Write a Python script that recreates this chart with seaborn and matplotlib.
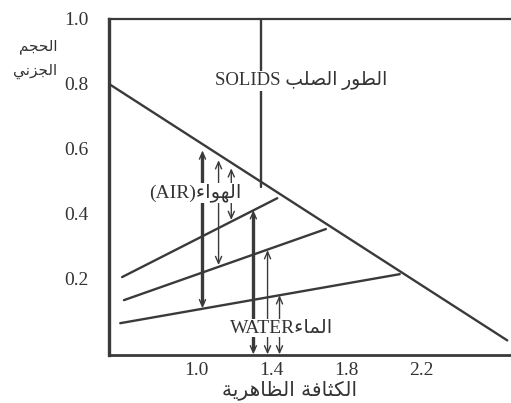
import matplotlib
matplotlib.use("Agg")
import matplotlib.pyplot as plt
import seaborn as sns
import pandas as pd

# ---------------- data ----------------
x_ticks = [1.0, 1.4, 1.8, 2.2]
y_ticks = [0.2, 0.4, 0.6, 0.8, 1.0]

solid_line_x = [0.53, 2.66]
solid_line_y = [0.80, 0.01]

line_a_x = [0.60, 1.43]
line_a_y = [0.205, 0.448]
line_b_x = [0.61, 1.69]
line_b_y = [0.134, 0.353]
line_c_x = [0.59, 2.085]
line_c_y = [0.063, 0.214]

divider_x = [1.345, 1.345]
divider_y = [1.0, 0.482]

air_arrow_x = [1.03, 1.116, 1.184]
air_arrow_top = [0.595, 0.565, 0.540]
air_arrow_bottom = [0.109, 0.242, 0.381]
air_arrow_width = [2.4, 1.0, 1.0]

water_arrow_x = [1.302, 1.378, 1.442]
water_arrow_top = [0.411, 0.288, 0.149]
water_arrow_bottom = [-0.033, -0.033, -0.033]
water_arrow_width = [2.4, 1.0, 1.0]

solids_label = "الطور الصلب"
air_label = "الهواء"
water_label = "الماء"
ylabel_lines = ["الحجم", "الجزني"]
xlabel_text = "الكثافة الظاهرية"

# ---------------- Arabic shaping (presentation forms, visual order) ----------------
DUAL = {"ب": 0xFE8F, "ت": 0xFE95, "ث": 0xFE99, "ج": 0xFE9D, "ح": 0xFEA1, "خ": 0xFEA5,
        "س": 0xFEB1, "ش": 0xFEB5, "ص": 0xFEB9, "ض": 0xFEBD, "ط": 0xFEC1, "ظ": 0xFEC5,
        "ع": 0xFEC9, "غ": 0xFECD, "ف": 0xFED1, "ق": 0xFED5, "ك": 0xFED9, "ل": 0xFEDD,
        "م": 0xFEE1, "ن": 0xFEE5, "ه": 0xFEE9, "ي": 0xFEF1, "ئ": 0xFE89}
RIGHT = {"ا": 0xFE8D, "ة": 0xFE93, "د": 0xFEA9, "ذ": 0xFEAB, "ر": 0xFEAD, "ز": 0xFEAF,
         "و": 0xFEED, "ى": 0xFEEF, "آ": 0xFE81, "أ": 0xFE83, "ؤ": 0xFE85, "إ": 0xFE87}
NONE = {"ء": 0xFE80}


def shape(text):
    out = []
    n = len(text)
    for i, ch in enumerate(text):
        prev = text[i - 1] if i > 0 else ""
        nxt = text[i + 1] if i < n - 1 else ""
        joining = ch in DUAL or ch in RIGHT
        jp = joining and prev in DUAL
        jn = ch in DUAL and (nxt in DUAL or nxt in RIGHT)
        if ch in DUAL:
            base = DUAL[ch]
            off = 3 if (jp and jn) else 1 if jp else 2 if jn else 0
            out.append(chr(base + off))
        elif ch in RIGHT:
            out.append(chr(RIGHT[ch] + (1 if jp else 0)))
        elif ch in NONE:
            out.append(chr(NONE[ch]))
        else:
            out.append(ch)
    return "".join(reversed(out))


# ---------------- style ----------------
sns.set_style("white")
plt.rcParams["font.family"] = ["Liberation Serif", "DejaVu Sans"]
INK = "#3a3a3a"
TXT = "#333333"

fig = plt.figure(figsize=(5.11, 4.03), dpi=100)
ax = fig.add_axes([0.2133, 0.1191, 0.7867, 0.8338])

lines = pd.concat([
    pd.DataFrame({"x": solid_line_x, "y": solid_line_y, "s": "solid"}),
    pd.DataFrame({"x": line_a_x, "y": line_a_y, "s": "a"}),
    pd.DataFrame({"x": line_b_x, "y": line_b_y, "s": "b"}),
    pd.DataFrame({"x": line_c_x, "y": line_c_y, "s": "c"}),
    pd.DataFrame({"x": divider_x, "y": divider_y, "s": "div"}),
])
sns.lineplot(data=lines, x="x", y="y", units="s", estimator=None, sort=False,
             color=INK, lw=1.7, ax=ax, legend=False)

for xs, tops, bots, ws in [(air_arrow_x, air_arrow_top, air_arrow_bottom, air_arrow_width),
                           (water_arrow_x, water_arrow_top, water_arrow_bottom, water_arrow_width)]:
    for x, t, b, w in zip(xs, tops, bots, ws):
        if w > 1.5:
            ax.vlines(x, b + 0.012, t - 0.012, color=INK, lw=w)
        ax.annotate("", xy=(x, b), xytext=(x, t),
                    arrowprops=dict(arrowstyle="<->,head_length=0.5,head_width=0.22",
                                    lw=1.0, color=INK, shrinkA=0, shrinkB=0,
                                    mutation_scale=10))

box = dict(facecolor="white", edgecolor="none", pad=0.5)
ax.text(1.555, 0.809, "SOLIDS " + shape(solids_label), ha="center", va="center",
        fontsize=13.5, color=TXT, bbox=box, zorder=5)
ax.text(0.99, 0.464, "(AIR)" + shape(air_label), ha="center", va="center",
        fontsize=14, color=TXT, bbox=box, zorder=5)
ax.text(1.455, 0.048, "WATER" + shape(water_label), ha="center", va="center",
        fontsize=14, color=TXT, bbox=box, zorder=5)

ax.set_xlim(0.53, 2.68)
ax.set_ylim(-0.035, 1.0)
ax.set_xticks(x_ticks)
ax.set_xticklabels([f"{v:.1f}" for v in x_ticks], fontsize=14, color=TXT)
ax.set_yticks(y_ticks)
ax.set_yticklabels([f"{v:.1f}" for v in y_ticks], fontsize=14, color=TXT)
ax.tick_params(axis="x", direction="in", length=4, width=1.2, color=INK, pad=5)
ax.tick_params(axis="y", direction="out", length=3, width=1.2, color=INK, pad=12)
ax.set_xlabel("")
ax.set_ylabel("")

for side in ["left", "bottom", "top"]:
    ax.spines[side].set_visible(True)
    ax.spines[side].set_color(INK)
ax.spines["left"].set_linewidth(2.4)
ax.spines["bottom"].set_linewidth(2.0)
ax.spines["top"].set_linewidth(1.6)
ax.spines["right"].set_visible(False)

fig.text(57 / 511, 1 - 46 / 403, shape(ylabel_lines[0]), ha="right", va="center",
         fontsize=11, color=TXT, family="DejaVu Sans")
fig.text(57 / 511, 1 - 71 / 403, shape(ylabel_lines[1]), ha="right", va="center",
         fontsize=11, color=TXT, family="DejaVu Sans")
fig.text(289 / 511, 1 - 390 / 403, shape(xlabel_text), ha="center", va="center",
         fontsize=14.5, color=TXT, family="DejaVu Sans")

fig.savefig("out.png", dpi=100)
